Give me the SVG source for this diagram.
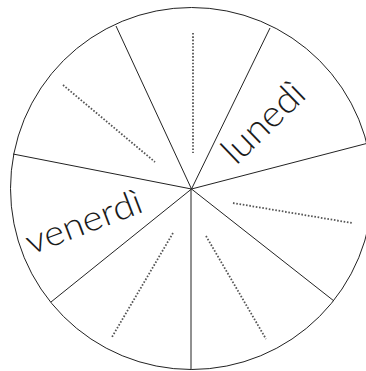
<svg xmlns="http://www.w3.org/2000/svg" width="366" height="371" viewBox="0 0 366 371">
<style>
.rim{fill:#fff;stroke:#222;stroke-width:1}
.spoke{stroke:#222;stroke-width:1;fill:none}
.dots{stroke:#555;stroke-width:1.8;stroke-dasharray:1.6 1.7;fill:none}
.lbl{font-family:Lato,"Liberation Sans",sans-serif;font-weight:300;font-size:35px;fill:#1a1a1a}
</style>
<rect width="366" height="371" fill="#fff"/>
<g id="wheel">
<circle class="rim" cx="191.5" cy="188.5" r="181"/>
</g>
<g id="connectors">
<line class="spoke" x1="191.5" y1="189" x2="116" y2="26"/>
<line class="spoke" x1="191.5" y1="189" x2="270" y2="28"/>
<line class="spoke" x1="191.5" y1="189" x2="366.5" y2="143.5"/>
<line class="spoke" x1="191.5" y1="189" x2="334" y2="301"/>
<line class="spoke" x1="191" y1="189" x2="191" y2="370"/>
<line class="spoke" x1="191.5" y1="189" x2="51" y2="302"/>
<line class="spoke" x1="191.5" y1="189" x2="13" y2="154"/>
</g>
<g id="sector-1"><line class="dots" x1="63" y1="85" x2="155" y2="162"/></g>
<g id="sector-2"><line class="dots" x1="193" y1="33" x2="193" y2="153"/></g>
<g id="sector-3"><text class="lbl" style="font-size:37px" transform="translate(236,166) rotate(-44)" textLength="100" lengthAdjust="spacingAndGlyphs">lunedì</text></g>
<g id="sector-4"><line class="dots" x1="233" y1="203" x2="352" y2="223"/></g>
<g id="sector-5"><line class="dots" x1="206" y1="236" x2="266" y2="339"/></g>
<g id="sector-6"><line class="dots" x1="173" y1="233" x2="112" y2="337"/></g>
<g id="sector-7"><text class="lbl" transform="translate(31,255) rotate(-21)" textLength="122" lengthAdjust="spacingAndGlyphs">venerdì</text></g>
</svg>
